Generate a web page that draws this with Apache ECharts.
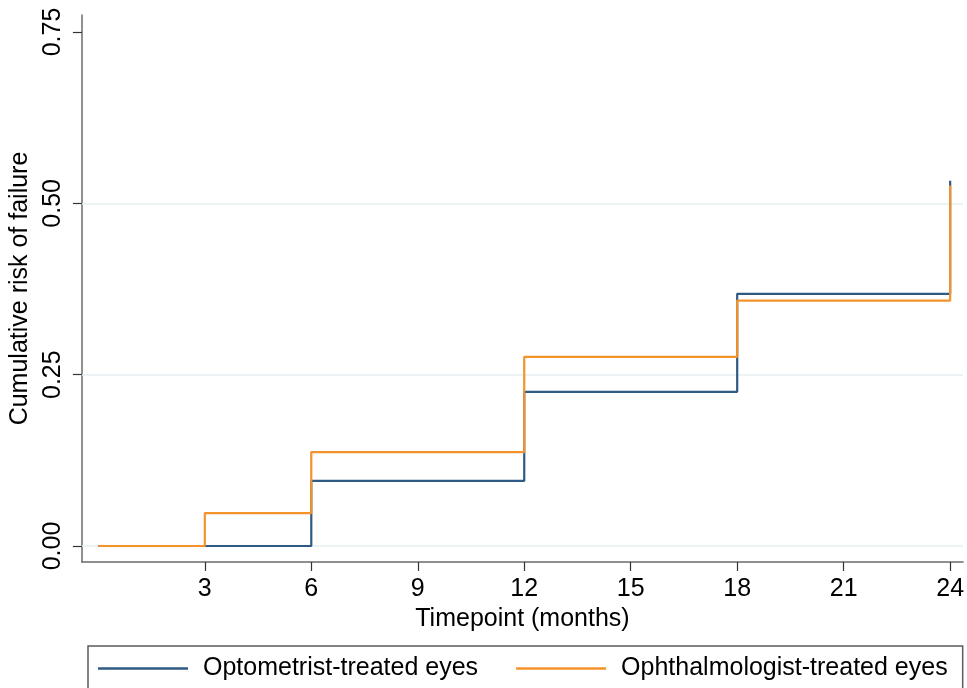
<!DOCTYPE html>
<html>
<head>
<meta charset="utf-8">
<script src="https://cdn.jsdelivr.net/npm/echarts@6/dist/echarts.min.js"></script>
<style>
html,body{margin:0;padding:0;background:#fff;}
#chart{width:967px;height:688px;}
</style>
</head>
<body>
<div id="chart"></div>
<script>
// Data
const seriesNames = ['Optometrist-treated eyes', 'Ophthalmologist-treated eyes'];
const timepoints = [0, 3, 6, 12, 18, 24];
const optometrist = [0, 0, 0.095, 0.225, 0.368, 0.533];
const ophthalmologist = [0, 0.048, 0.137, 0.276, 0.358, 0.526];
const xTicks = [3, 6, 9, 12, 15, 18, 21, 24];
const yTicks = [0, 0.25, 0.5, 0.75];
const yGridLines = [0, 0.25, 0.5];

const FONT = '"Liberation Sans", Arial, Helvetica, sans-serif';
const BLUE = '#2f5a84';
const ORANGE = '#f5932b';
const AXIS = '#6b6b6b';
const FS = 25;

function pairs(xs, ys) { return xs.map((x, i) => [x, ys[i]]); }

const chart = echarts.init(document.getElementById('chart'), null, {renderer: 'canvas'});
chart.setOption({
  animation: false,
  backgroundColor: '#ffffff',
  textStyle: {fontFamily: FONT},
  grid: {left: 78, right: 0, top: 15, bottom: 126, containLabel: false},
  xAxis: {
    type: 'value',
    min: -0.4627,
    max: 24.363,
    name: 'Timepoint (months)',
    nameLocation: 'middle',
    nameGap: 40,
    nameTextStyle: {fontSize: FS, color: '#000', fontFamily: FONT},
    axisLine: {show: true, onZero: false, lineStyle: {color: AXIS, width: 1.5}},
    axisTick: {show: true, length: 9, lineStyle: {color: '#333', width: 1.2}, customValues: xTicks},
    axisLabel: {show: true, fontSize: FS, color: '#000', margin: 15, fontFamily: FONT, customValues: xTicks},
    splitLine: {show: false}
  },
  yAxis: {
    type: 'value',
    min: -0.02335,
    max: 0.77481,
    name: 'Cumulative risk of failure',
    nameLocation: 'middle',
    nameGap: 29,
    nameRotate: 90,
    nameTextStyle: {fontSize: FS, color: '#000', fontFamily: FONT},
    axisLine: {show: true, onZero: false, lineStyle: {color: AXIS, width: 1.5}},
    axisTick: {show: true, length: 9, lineStyle: {color: '#333', width: 1.2}, customValues: yTicks},
    axisLabel: {
      show: true, fontSize: FS, color: '#000', margin: 16, rotate: 90, fontFamily: FONT,
      customValues: yTicks,
      formatter: v => Number(v).toFixed(2)
    },
    splitLine: {show: false}
  },
  legend: {
    data: seriesNames,
    left: 88,
    top: 646,
    orient: 'horizontal',
    padding: [10, 15, 20, 10],
    itemGap: 38,
    itemWidth: 90,
    itemHeight: 2.5,
    icon: 'rect',
    borderColor: '#5a5a5a',
    borderWidth: 1.5,
    backgroundColor: '#fff',
    textStyle: {fontSize: FS, color: '#000', fontFamily: FONT, padding: [0, 0, 0, 10]}
  },
  series: [
    {
      name: 'grid',
      type: 'line',
      data: [[0, 0]],
      symbol: 'none',
      lineStyle: {opacity: 0},
      silent: true,
      z: 1,
      markLine: {
        silent: true,
        z: 1,
        symbol: 'none',
        label: {show: false},
        lineStyle: {color: '#e7eff0', width: 1.5, type: 'solid'},
        data: yGridLines.map(v => ({yAxis: v}))
      }
    },
    {
      name: seriesNames[0],
      type: 'line',
      step: 'end',
      data: pairs(timepoints, optometrist),
      symbol: 'none',
      color: BLUE,
      lineStyle: {color: BLUE, width: 2.2},
      z: 3
    },
    {
      name: seriesNames[1],
      type: 'line',
      step: 'end',
      data: pairs(timepoints, ophthalmologist),
      symbol: 'none',
      color: ORANGE,
      lineStyle: {color: ORANGE, width: 2.2},
      z: 4
    }
  ]
});
</script>
</body>
</html>
